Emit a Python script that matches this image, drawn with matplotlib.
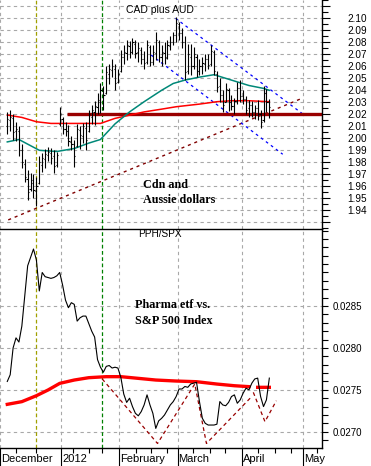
import matplotlib
matplotlib.use('Agg')
import matplotlib.pyplot as plt
import matplotlib.ticker as mticker
import numpy as np
import pandas as pd

plt.rcParams['font.family'] = ['Liberation Sans', 'DejaVu Sans']

# calendario de dias habiles del eje (indice 0 = 1 dic 2011)
dias = pd.bdate_range('2011-12-01', '2012-05-31', freq='C',
                      holidays=['2011-12-26', '2012-01-02', '2012-01-16', '2012-02-20'])
inicio = list(dias).index(pd.Timestamp('2011-12-05'))
nombres_mes = ['December', '2012', 'February', 'March', 'April', 'May']

# CAD + AUD, barras diarias (5 dic 2011 - 13 abr 2012)
aperturas = [2.010, 2.015, 2.017, 2.006, 2.006, 1.990, 1.979, 1.966, 1.958, 1.963,
             1.956, 1.963, 1.978, 1.983, 1.986, 1.988, 1.985, 1.978, 2.012, 2.016,
             2.008, 2.006, 1.997, 1.995, 1.994, 2.007, 2.002, 2.009, 2.006, 2.018,
             2.022, 2.026, 2.030, 2.040, 2.038, 2.054, 2.057, 2.058, 2.047, 2.056,
             2.068, 2.071, 2.077, 2.072, 2.079, 2.072, 2.074, 2.066, 2.064, 2.076,
             2.064, 2.071, 2.080, 2.068, 2.071, 2.068, 2.077, 2.080, 2.086, 2.095,
             2.088, 2.080, 2.056, 2.068, 2.060, 2.068, 2.056, 2.060, 2.062, 2.066,
             2.062, 2.072, 2.054, 2.044, 2.036, 2.030, 2.040, 2.030, 2.027, 2.031,
             2.042, 2.035, 2.033, 2.025, 2.028, 2.022, 2.025, 2.020, 2.015, 2.038,
             2.030]
maximos = [2.022, 2.024, 2.020, 2.014, 2.010, 1.995, 1.983, 1.974, 1.971, 1.970,
           1.968, 1.985, 1.988, 1.991, 1.993, 1.992, 1.990, 1.989, 2.026, 2.018,
           2.014, 2.011, 2.002, 1.999, 2.012, 2.010, 2.013, 2.014, 2.024, 2.028,
           2.031, 2.038, 2.046, 2.044, 2.060, 2.062, 2.066, 2.062, 2.058, 2.074,
           2.078, 2.082, 2.081, 2.084, 2.082, 2.080, 2.076, 2.073, 2.082, 2.078,
           2.078, 2.089, 2.082, 2.078, 2.080, 2.082, 2.085, 2.089, 2.101, 2.097,
           2.092, 2.085, 2.079, 2.079, 2.076, 2.070, 2.066, 2.068, 2.070, 2.070,
           2.078, 2.074, 2.056, 2.050, 2.040, 2.046, 2.042, 2.036, 2.034, 2.047,
           2.049, 2.040, 2.035, 2.032, 2.031, 2.028, 2.032, 2.024, 2.044, 2.041,
           2.033]
minimos = [2.004, 2.006, 1.999, 1.998, 1.985, 1.975, 1.964, 1.949, 1.956, 1.950,
           1.944, 1.962, 1.972, 1.975, 1.981, 1.979, 1.971, 1.976, 2.010, 2.004,
           2.002, 1.994, 1.990, 1.976, 1.993, 1.991, 1.996, 1.990, 2.005, 2.012,
           2.011, 2.020, 2.021, 2.024, 2.037, 2.045, 2.051, 2.040, 2.046, 2.055,
           2.062, 2.065, 2.067, 2.070, 2.067, 2.064, 2.062, 2.058, 2.062, 2.060,
           2.061, 2.065, 2.064, 2.060, 2.062, 2.066, 2.074, 2.078, 2.080, 2.082,
           2.075, 2.049, 2.054, 2.053, 2.058, 2.051, 2.053, 2.054, 2.056, 2.058,
           2.060, 2.053, 2.039, 2.030, 2.022, 2.030, 2.023, 2.024, 2.020, 2.029,
           2.030, 2.029, 2.020, 2.018, 2.018, 2.016, 2.015, 2.009, 2.014, 2.022,
           2.017]
cierres = [2.016, 2.018, 2.005, 2.008, 1.990, 1.980, 1.968, 1.955, 1.965, 1.957,
           1.960, 1.980, 1.984, 1.987, 1.989, 1.984, 1.977, 1.986, 2.020, 2.008,
           2.006, 1.998, 1.995, 1.985, 2.008, 2.003, 2.010, 1.999, 2.020, 2.024,
           2.027, 2.032, 2.040, 2.036, 2.055, 2.058, 2.060, 2.046, 2.054, 2.068,
           2.072, 2.078, 2.072, 2.080, 2.071, 2.075, 2.066, 2.063, 2.078, 2.064,
           2.072, 2.082, 2.068, 2.072, 2.067, 2.078, 2.080, 2.086, 2.096, 2.088,
           2.080, 2.055, 2.070, 2.060, 2.070, 2.056, 2.060, 2.063, 2.066, 2.061,
           2.073, 2.056, 2.043, 2.036, 2.028, 2.041, 2.030, 2.027, 2.031, 2.042,
           2.035, 2.033, 2.024, 2.028, 2.022, 2.025, 2.020, 2.014, 2.038, 2.030,
           2.026]

# medias moviles (dia del calendario, valor)
media_corta_dia = [2, 6, 13, 19, 25, 30, 34, 39, 44, 49, 55, 59, 63, 68, 73, 79, 85, 90, 92]
media_corta = [1.997, 1.999, 1.990, 1.989, 1.9915, 1.996, 1.999, 2.012, 2.022, 2.0305,
               2.040, 2.0457, 2.0485, 2.051, 2.053, 2.0485, 2.044, 2.0416, 2.040]
media_larga_dia = [2, 7, 12, 17, 25, 34, 39, 44, 49, 55, 60, 68, 74, 79, 85, 92]
media_larga = [2.0194, 2.0174, 2.0138, 2.0124, 2.0124, 2.0124, 2.0166, 2.0193, 2.022,
               2.0243, 2.0263, 2.0285, 2.0305, 2.0313, 2.0313, 2.0305]

# PPH / SPX
razon = [0.02760, 0.02768, 0.02800, 0.02812, 0.02807, 0.02826, 0.02862, 0.02898, 0.02908, 0.02918,
         0.02905, 0.02868, 0.02890, 0.02885, 0.02884, 0.02883, 0.02884, 0.02886, 0.02890, 0.02875,
         0.02857, 0.02848, 0.02854, 0.02852, 0.02832, 0.02836, 0.02838, 0.02838, 0.02829, 0.02820,
         0.02813, 0.02786, 0.02777, 0.02771, 0.02778, 0.02779, 0.02776, 0.02777, 0.02776, 0.02765,
         0.02745, 0.02735, 0.02740, 0.02730, 0.02722, 0.02719, 0.02724, 0.02732, 0.02744, 0.02732,
         0.02722, 0.02704, 0.02713, 0.02716, 0.02720, 0.02726, 0.02732, 0.02736, 0.02742, 0.02751,
         0.02751, 0.02754, 0.02753, 0.02757, 0.02758, 0.02759, 0.02736, 0.02716, 0.02710, 0.02708,
         0.02708, 0.02708, 0.02709, 0.02736, 0.02732, 0.02731, 0.02735, 0.02742, 0.02744, 0.02734,
         0.02738, 0.02746, 0.02752, 0.02750, 0.02758, 0.02763, 0.02764, 0.02742, 0.02730, 0.02738,
         0.02764]
media_razon_dia = [2, 7, 12, 16, 20, 25, 30, 36, 41, 47, 53, 60, 67, 74, 80, 85, 86, 88, 92]
media_razon = [0.027327, 0.027359, 0.027430, 0.027498, 0.027577, 0.027617, 0.027645,
               0.027657, 0.027657, 0.027637, 0.027617, 0.027605, 0.027597, 0.027569,
               0.027549, 0.027538, np.nan, 0.027530, 0.027530]

# lineas de tendencia dibujadas a mano (dia, valor)
canal_sup = ([59.8, 104.4], [2.100, 2.0186])
canal_inf = ([51.4, 96.6], [2.0694, 1.9867])
tendencia = ([2.33, 103.3], [1.932, 2.0334])
soporte = 2.02
soporte_desde = 22.4
w_1 = ([34.6, 53.6, 66.4, 70.4, 85.4], [0.02763, 0.02686, 0.02757, 0.02686, 0.02740])
w_2 = ([86.5, 90.5, 94.4], [0.02747, 0.02712, 0.02737])
linea_amarilla = 11.8
linea_verde = 34.6
ticks_semana = [5.0, 11.8, 24.7, 30.2, 34.6, 46.2, 51.4, 57.0, 65.7, 71.5, 76.9,
                88.2, 94.0, 99.4, 108.3]

# posiciones de inicio de mes
meses = dias.to_period('M')
inicio_mes = [i - 0.5 for i in range(len(dias)) if i == 0 or meses[i] != meses[i - 1]]

x = np.arange(inicio, inicio + len(cierres))
xlim = (2.33, 110.09)
gris = '#a8a8a8'

fig = plt.figure(figsize=(3.71, 4.66), dpi=100)
ax2 = fig.add_axes([0, 18 / 466, 322 / 371, 219 / 466])
ax1 = fig.add_axes([0, 237 / 466, 322 / 371, 229 / 466])
ax1.patch.set_visible(False)
ax2.patch.set_visible(False)

for ax in (ax1, ax2):
    ax.set_xlim(*xlim)
    for s in ('left', 'top'):
        ax.spines[s].set_visible(False)
    ax.spines['right'].set_linewidth(1.0)
    ax.spines['bottom'].set_linewidth(1.0)
    ax.yaxis.tick_right()
    ax.set_xticks(inicio_mes)
    ax.set_axisbelow(True)
    ax.grid(True, which='major', color=gris, linestyle=(0, (3, 3)), linewidth=0.8)
    ax.axvline(linea_amarilla, color='#a0a000', linestyle=(0, (3, 2)), lw=0.9)
    ax.axvline(linea_verde, color='#008000', linestyle=(0, (3, 2)), lw=0.9)

# --- panel superior ---
ax1.set_ylim(1.92442, 2.11525)
ax1.set_yticks(np.arange(1.93, 2.1151, 0.01))
ax1.yaxis.set_minor_locator(mticker.MultipleLocator(0.005))
ax1.yaxis.set_major_formatter(mticker.FuncFormatter(
    lambda v, p: '%.2f' % v if 1.935 < v < 2.105 else ''))
ax1.tick_params(axis='y', which='major', length=6, width=0.8, pad=12, labelsize=7.2)
ax1.tick_params(axis='y', which='minor', length=4, width=0.8)
ax1.tick_params(axis='x', which='both', length=0, labelbottom=False)

ax1.plot(*tendencia, color='#800000', linestyle=(0, (2.2, 2.8)), lw=1.0)
ax1.plot(*canal_sup, color='#0000ff', linestyle=(0, (2.2, 2.8)), lw=0.9)
ax1.plot(*canal_inf, color='#0000ff', linestyle=(0, (2.2, 2.8)), lw=0.9)
ax1.hlines(soporte, soporte_desde, xlim[1], color='#990000', lw=2.4)
ax1.plot(media_larga_dia, media_larga, color='#ff0000', lw=1.1)
ax1.plot(media_corta_dia, media_corta, color='#008878', lw=1.1)

ax1.vlines(x, minimos, maximos, color='black', lw=0.8)
ax1.hlines(aperturas, x - 0.4, x, color='black', lw=0.8)
ax1.hlines(cierres, x, x + 0.4, color='black', lw=0.8)

ax1.text(0.497, 0.956, 'CAD plus AUD', transform=ax1.transAxes, ha='center',
         va='center', fontsize=7.5)
ax1.text(48.5, 1.9611, 'Cdn and', family='Liberation Serif', weight='bold',
         fontsize=8.7, va='center')
ax1.text(48.5, 1.949, 'Aussie dollars', family='Liberation Serif', weight='bold',
         fontsize=8.7, va='center')

# --- panel inferior ---
ax2.set_ylim(0.026806, 0.029419)
ax2.set_yticks([0.0270, 0.0275, 0.0280, 0.0285])
ax2.yaxis.set_minor_locator(mticker.MultipleLocator(0.0001))
ax2.yaxis.set_major_formatter(mticker.FormatStrFormatter('%.4f'))
ax2.tick_params(axis='y', which='both', length=4, width=0.8, pad=4, labelsize=7)
ax2.set_xticks(ticks_semana, minor=True)
ax2.tick_params(axis='x', which='major', length=14, width=0.8, labelbottom=False)
ax2.tick_params(axis='x', which='minor', length=3.5, width=0.8)

ax2.plot(*w_1, color='#990000', linestyle=(0, (3, 2.5)), lw=0.9)
ax2.plot(*w_2, color='#990000', linestyle=(0, (3, 2.5)), lw=0.9)
ax2.plot(media_razon_dia, media_razon, color='#ff0000', lw=2.4)
ax2.plot(x, razon, color='black', lw=0.8)

ax2.text(0.497, 0.975, 'PPH/SPX', transform=ax2.transAxes, ha='center',
         va='center', fontsize=7.2)
ax2.text(45.8, 0.028512, 'Pharma etf vs.', family='Liberation Serif', weight='bold',
         fontsize=8.7, va='center')
ax2.text(45.8, 0.028325, 'S&P 500 Index', family='Liberation Serif', weight='bold',
         fontsize=8.7, va='center')

tr = ax2.get_xaxis_transform()
for pos, nombre in zip(inicio_mes, nombres_mes):
    ax2.text(pos + 0.3, -0.05, nombre, transform=tr, ha='left', va='center',
             fontsize=8, clip_on=False)

fig.savefig('out.png', dpi=100)
